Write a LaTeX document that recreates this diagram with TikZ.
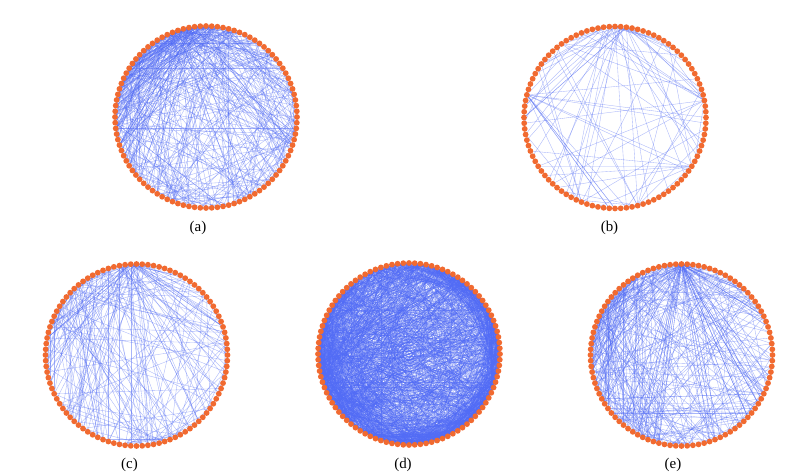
\documentclass[tikz,border=0pt]{standalone}
\usepackage{fontspec}
\setmainfont{Liberation Serif}
\pgfdeclarelayer{back}
\pgfdeclarelayer{bg}
\pgfsetlayers{back,bg,main}
\definecolor{nodeor}{RGB}{241,106,48}
\definecolor{edgebl}{RGB}{82,108,245}
\tikzset{
  dot/.style={circle,fill=nodeor,draw=none,inner sep=0pt,minimum size=5.8bp},
  edge/.style={draw=edgebl,line width=0.35bp,opacity=0.5},
  captxt/.style={font=\fontsize{15}{17}\selectfont,inner sep=0pt}
}
\newcommand{\ring}[3]{\foreach \i in {0,...,99}{\node[dot] (#1\i) at ({#2+91*cos(90+3.6*\i)},{#3-91*sin(90+3.6*\i)}) {};}}
\newcommand{\lnk}[3]{\draw[edge] (#1#2.center) -- (#1#3.center);}
\newcommand{\pickidx}[4]{%
  \pgfmathsetmacro\pkh{mod(round(#2+#3*(rnd+rnd-1))+200,100)}%
  \pgfmathsetmacro\pkr{mod(floor(100*rnd),100)}%
  \pgfmathtruncatemacro#1{rnd<#4 ? \pkh : \pkr}}
\begin{document}
\begin{tikzpicture}[x=1bp,y=-1bp]
\begin{pgfonlayer}{back}
\fill[white] (0,0) rectangle (796,475);
\end{pgfonlayer}
\useasboundingbox (0,0) rectangle (796,475);
% rings of nodes
\ring{a}{206}{117}
\ring{b}{615}{117.5}
\ring{c}{136.5}{355}
\ring{d}{409}{354}
\ring{e}{681.5}{355}
% captions
\node[captxt] (la) at (198,228) {(a)};
\node[captxt] (lb) at (609.5,228) {(b)};
\node[captxt] (lc) at (129.5,465) {(c)};
\node[captxt] (ld) at (403,465) {(d)};
\node[captxt] (le) at (673,465) {(e)};
\begin{pgfonlayer}{bg}
% (a)
\pgfmathsetseed{7}
\foreach \k in {1,...,460}{
  \pickidx{\u}{3}{10}{0.45}
  \pickidx{\v}{20}{25}{0.3}
  \lnk{a}{\u}{\v}
}
% (b)
\pgfmathsetseed{21}
\foreach \k in {1,...,95}{
  \pgfmathtruncatemacro\u{{0,1,99,2,98,0,21,78,44,54,66,10,21,78}[floor(14*rnd)]}
  \pgfmathtruncatemacro\v{mod(floor(100*rnd),100)}
  \lnk{b}{\u}{\v}
}
% (c)
\pgfmathsetseed{33}
\foreach \k in {1,...,150}{
  \pickidx{\u}{12}{12}{0.5}
  \pickidx{\v}{40}{25}{0.4}
  \lnk{c}{\u}{\v}
}
\foreach \k in {1,...,80}{
  \pickidx{\u}{1}{3}{0.8}
  \pgfmathtruncatemacro\v{mod(floor(100*rnd),100)}
  \lnk{c}{\u}{\v}
}
% (d)
\pgfmathsetseed{45}
\foreach \k in {1,...,1500}{
  \pickidx{\u}{28}{20}{0.45}
  \pgfmathtruncatemacro\v{mod(floor(100*rnd),100)}
  \lnk{d}{\u}{\v}
}
\foreach \k in {1,...,450}{
  \pgfmathtruncatemacro\u{40+50*rnd}
  \pgfmathtruncatemacro\v{mod(\u+3+18*rnd,100)}
  \lnk{d}{\u}{\v}
}
% (e)
\pgfmathsetseed{57}
\foreach \k in {1,...,70}{
  \pgfmathtruncatemacro\v{mod(floor(100*rnd),100)}
  \lnk{e}{0}{\v}
}
\foreach \k in {1,...,300}{
  \pickidx{\u}{10}{14}{0.5}
  \pickidx{\v}{35}{22}{0.4}
  \lnk{e}{\u}{\v}
}
\lnk{e}{35}{65}
\lnk{e}{36}{64}
\lnk{e}{36}{65}
\lnk{e}{37}{63}
\lnk{e}{35}{64}
\end{pgfonlayer}
\end{tikzpicture}
\end{document}
